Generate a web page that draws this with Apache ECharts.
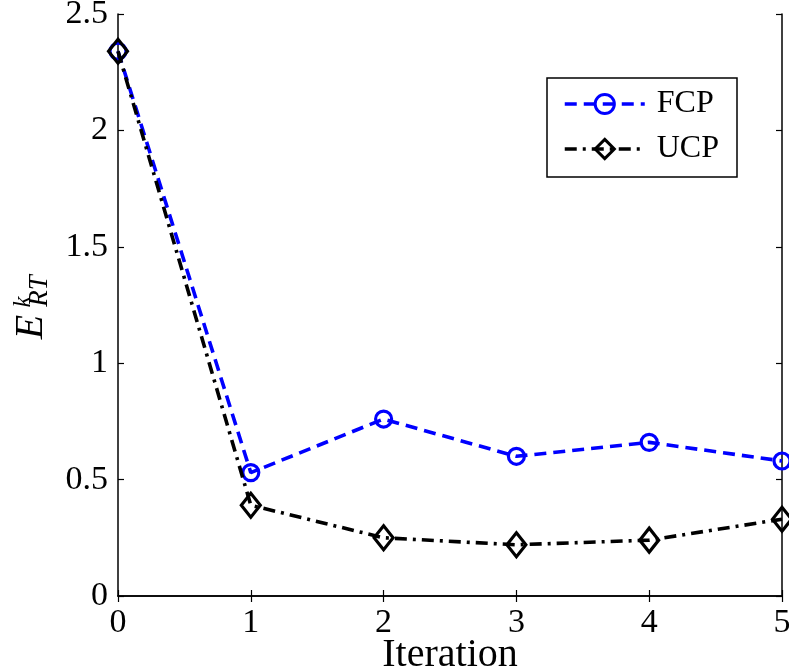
<!DOCTYPE html>
<html><head><meta charset="utf-8">
<script src="https://cdn.jsdelivr.net/npm/echarts@6/dist/echarts.min.js"></script>
<style>html,body{margin:0;padding:0;background:#fff}#c{width:789px;height:671px}</style>
</head><body><div id="c"></div>
<script>
const iterations = ['0','1','2','3','4','5'];
const fcp = [2.34, 0.53, 0.76, 0.60, 0.66, 0.58];
const ucp = [2.34, 0.39, 0.25, 0.22, 0.24, 0.33];
const seriesNames = ['FCP', 'UCP'];
const xName = 'Iteration';

const FONT = 'Liberation Serif';
const chart = echarts.init(document.getElementById('c'));
const axisLineStyle = {color:'#000', width:1.5};
const tick = {show:true, inside:true, length:6, lineStyle:{color:'#000', width:1.2}};
chart.setOption({
  animation:false,
  backgroundColor:'#fff',
  grid:{left:118, right:7, top:14, bottom:75, containLabel:false, outerBoundsMode:'none'},
  legend:{
    data:seriesNames, orient:'vertical', left:547, top:78,
    padding:[10,18,12,16], itemGap:13, itemWidth:80, itemHeight:24,
    borderColor:'#000', borderWidth:1.5, backgroundColor:'#fff',
    lineStyle:{width:3.5},
    itemStyle:{borderWidth:3},
    textStyle:{fontFamily:FONT, fontSize:32, color:'#000', padding:[0,0,0,7]}
  },
  xAxis:[{
    type:'category', data:iterations, boundaryGap:false,
    name:xName, nameLocation:'middle', nameGap:39, nameMoveOverlap:false,
    nameTextStyle:{fontFamily:FONT, fontSize:40, color:'#000'},
    axisLine:{lineStyle:axisLineStyle}, axisTick:Object.assign({alignWithLabel:true}, tick),
    axisLabel:{fontFamily:FONT, fontSize:34, color:'#000', margin:10},
    splitLine:{show:false}
  },{
    type:'category', data:iterations, boundaryGap:false, position:'top',
    axisLine:{lineStyle:axisLineStyle}, axisTick:tick, axisLabel:{show:false}, splitLine:{show:false}
  }],
  yAxis:[{
    type:'value', min:0, max:2.5, interval:0.5,
    axisLine:{show:true, lineStyle:axisLineStyle}, axisTick:tick,
    axisLabel:{fontFamily:FONT, fontSize:34, color:'#000', margin:10},
    splitLine:{show:false}
  },{
    type:'value', min:0, max:2.5, interval:0.5, position:'right',
    axisLine:{show:true, lineStyle:axisLineStyle}, axisTick:tick,
    axisLabel:{show:false}, splitLine:{show:false}
  }],
  series:[{
    name:seriesNames[0], type:'line', data:fcp,
    symbol:'circle', symbolSize:16,
    lineStyle:{color:'#0000ff', width:3.6, type:[12,7]},
    itemStyle:{color:'rgba(255,255,255,0)', borderColor:'#0000ff', borderWidth:3.2},
    z:2
  },{
    name:seriesNames[1], type:'line', data:ucp,
    symbol:'diamond', symbolSize:[19,24],
    lineStyle:{color:'#000', width:3.6, type:[12,6,3,6]},
    itemStyle:{color:'rgba(255,255,255,0)', borderColor:'#000', borderWidth:3.2},
    z:3
  }],
  graphic:[
    {type:'text', x:31, y:327, rotation:Math.PI/2,
     style:{text:'E', font:'italic 40px "Liberation Serif"', fill:'#000', align:'center', verticalAlign:'middle'}},
    {type:'text', x:23, y:302, rotation:Math.PI/2,
     style:{text:'k', font:'italic 25px "Liberation Serif"', fill:'#000', align:'center', verticalAlign:'middle'}},
    {type:'text', x:40, y:291, rotation:Math.PI/2,
     style:{text:'RT', font:'italic 27px "Liberation Serif"', fill:'#000', align:'center', verticalAlign:'middle'}}
  ]
});
</script></body></html>
